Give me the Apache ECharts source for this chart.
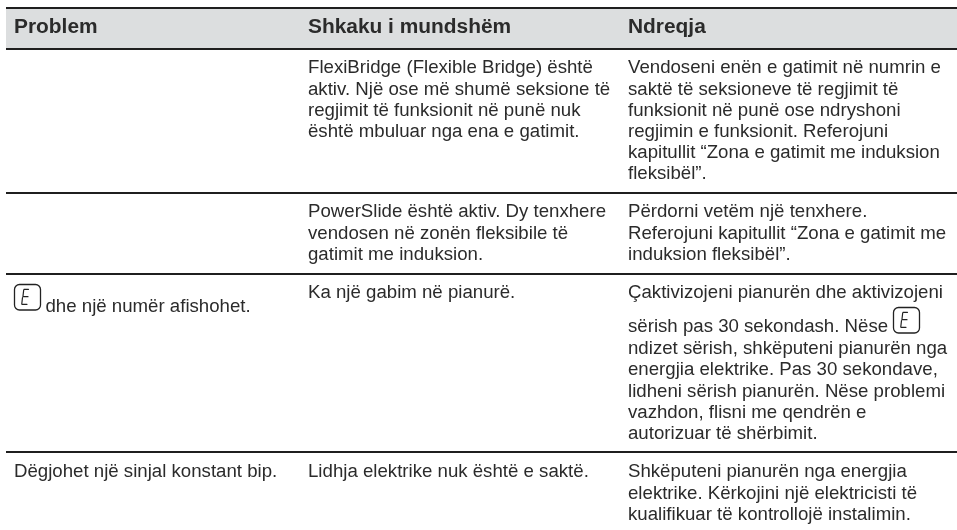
<!DOCTYPE html>
<html><head><meta charset="utf-8">
<style>html,body{margin:0;padding:0;background:#fff;overflow:hidden}#c{width:957px;height:530px}</style>
<script src="https://cdn.jsdelivr.net/npm/echarts@6/dist/echarts.min.js"></script>
</head><body><div id="c"></div>
<script>
const headers = ['Problem','Shkaku i mundshëm','Ndreqja'];
const problemLines = ['dhe një numër afishohet.','Dëgjohet një sinjal konstant bip.'];
const causeLines = [
 'FlexiBridge (Flexible Bridge) është','aktiv. Një ose më shumë seksione të','regjimit të funksionit në punë nuk','është mbuluar nga ena e gatimit.',
 'PowerSlide është aktiv. Dy tenxhere','vendosen në zonën fleksibile të','gatimit me induksion.',
 'Ka një gabim në pianurë.',
 'Lidhja elektrike nuk është e saktë.'];
const fixLines = [
 'Vendoseni enën e gatimit në numrin e','saktë të seksioneve të regjimit të','funksionit në punë ose ndryshoni','regjimin e funksionit. Referojuni','kapitullit “Zona e gatimit me induksion','fleksibël”.',
 'Përdorni vetëm një tenxhere.','Referojuni kapitullit “Zona e gatimit me','induksion fleksibël”.',
 'Çaktivizojeni pianurën dhe aktivizojeni',
 'sërish pas 30 sekondash. Nëse','ndizet sërish, shkëputeni pianurën nga','energjia elektrike. Pas 30 sekondave,','lidheni sërish pianurën. Nëse problemi','vazhdon, flisni me qendrën e','autorizuar të shërbimit.',
 'Shkëputeni pianurën nga energjia','elektrike. Kërkojini një elektricisti të','kualifikuar të kontrollojë instalimin.'];

const problemY=[307,472.3], problemX=[45.5,14];
const causeY=[68.3,89.5,110.7,131.9,212.3,233.5,254.7,293.3,472.3];
const fixY=[68.3,89.5,110.7,131.9,153.1,174.3,212.3,233.5,254.7,293.3,327.3,349,370.2,391.4,412.6,433.8,472.3,493.5,514.7];
const ruleY=[8,49,193,274,452];
const FONT='"Liberation Sans", Arial, sans-serif';
const C='#2b2b2b', SIZE='18.65px ', HEAD='bold 20.9px ';
const T=(s,x,y,f)=>({type:'text',x,y,silent:true,style:{text:s,x:0,y:0,fill:C,font:(f||SIZE)+FONT,verticalAlign:'middle'}});
const rule=y=>({type:'rect',silent:true,shape:{x:6,y:y-0.9,width:951,height:1.8},style:{fill:'#1f1f1f'}});
const seg=(a,b,c,d)=>({type:'line',shape:{x1:a,y1:b,x2:c,y2:d},style:{stroke:'#222',lineWidth:1.2,lineCap:'round'}});
const icon=(x,y)=>({type:'group',x,y,silent:true,children:[
 {type:'rect',shape:{x:0,y:0,width:26,height:25.5,r:5},style:{fill:'none',stroke:'#222',lineWidth:1.3}},
 seg(9.5,4.8,14,4.8),seg(9.2,5.5,8.5,11.5),seg(8.5,12.2,13.5,12.2),seg(8,13,7.3,19.2),seg(7.5,19.8,12.5,19.8)
]});
const els=[
 {type:'rect',silent:true,shape:{x:6,y:8,width:951,height:41},style:{fill:'#dcdedf'}},
 ...ruleY.map(rule),
 T(headers[0],14,27.5,HEAD),T(headers[1],308,27.5,HEAD),T(headers[2],628,27.5,HEAD),
 ...problemLines.map((s,i)=>T(s,problemX[i],problemY[i])),
 ...causeLines.map((s,i)=>T(s,308,causeY[i])),
 ...fixLines.map((s,i)=>T(s,628,fixY[i])),
 icon(14.5,284.5),icon(893.5,307.5)
];
const chart=echarts.init(document.getElementById('c'),null,{renderer:'canvas'});
chart.setOption({animation:false,backgroundColor:'#fff',graphic:{elements:els}});
</script></body></html>
